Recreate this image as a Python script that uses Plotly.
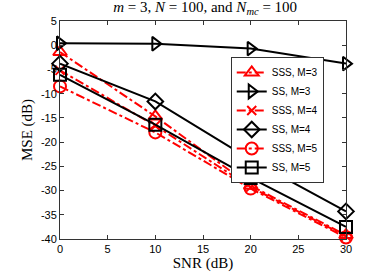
import plotly.graph_objects as go

snr = [0, 10, 20, 30]
sss_m3 = [-1.4, -14.7, -29.0, -39.2]
ss_m3 = [0.4, 0.3, -0.7, -3.8]
sss_m4 = [-5.2, -16.6, -29.3, -39.4]
ss_m4 = [-3.8, -11.6, -23.6, -34.3]
sss_m5 = [-8.5, -18.0, -29.6, -39.7]
ss_m5 = [-6.1, -16.4, -27.4, -37.5]

x_ticks = [0, 5, 10, 15, 20, 25, 30]
y_ticks = [5, 0, -5, -10, -15, -20, -25, -30, -35, -40]

series = [
    ("SSS, M=3", sss_m3, "red", "dashdot", "triangle-up-open"),
    ("SS, M=3", ss_m3, "black", "solid", "triangle-right-open"),
    ("SSS, M=4", sss_m4, "red", "dashdot", "x-thin-open"),
    ("SS, M=4", ss_m4, "black", "solid", "diamond-open"),
    ("SSS, M=5", sss_m5, "red", "dashdot", "circle-open"),
    ("SS, M=5", ss_m5, "black", "solid", "square-open"),
]

fig = go.Figure()
for name, y, col, dash, sym in series:
    fig.add_trace(go.Scatter(
        x=snr, y=y, name=name, mode="lines+markers",
        line=dict(color=col, width=2, dash=dash),
        marker=dict(symbol=sym, size=12 if sym != "x-thin-open" else 9,
                    color=col, line=dict(color=col, width=2)),
        cliponaxis=False,
    ))

SERIF = "Liberation Serif"
SANS = "Liberation Sans"

axis_common = dict(
    showline=True, linecolor="#333", linewidth=1, mirror="ticks",
    ticks="inside", ticklen=4, tickcolor="#333", showgrid=False, zeroline=False,
    automargin=False,
    tickfont=dict(family=SANS, size=11, color="black"),
)

fig.update_layout(
    width=382, height=273,
    margin=dict(l=60, r=36, t=21, b=34, autoexpand=False),
    paper_bgcolor="white", plot_bgcolor="white",
    title=dict(
        text="<i>m</i> = 3, <i>N</i> = 100, and <i>N</i><sub><i>mc</i></sub> = 100",
        x=0.537, xanchor="center", y=0.995, yanchor="top",
        font=dict(family=SERIF, size=15, color="black"),
        automargin=False,
    ),
    xaxis=dict(range=[0, 30], tickvals=x_ticks, ticktext=[str(v) for v in x_ticks],
               title=dict(text="SNR (dB)", standoff=3,
                          font=dict(family=SERIF, size=15, color="black")),
               **axis_common),
    yaxis=dict(range=[-40, 5], tickvals=y_ticks,
               ticktext=[str(v) for v in y_ticks],
               title=dict(text="MSE (dB)", standoff=4,
                          font=dict(family=SERIF, size=15, color="black")),
               **axis_common),
    legend=dict(
        x=0.597, y=0.835, xanchor="left", yanchor="top",
        bgcolor="white", bordercolor="#333", borderwidth=1,
        font=dict(family=SANS, size=10, color="black"),
        tracegroupgap=0, itemwidth=30,
    ),
    showlegend=True,
)

fig.write_html("out.html", config={"displayModeBar": False},
               post_script="document.body.style.margin='0';document.body.style.padding='0';")
